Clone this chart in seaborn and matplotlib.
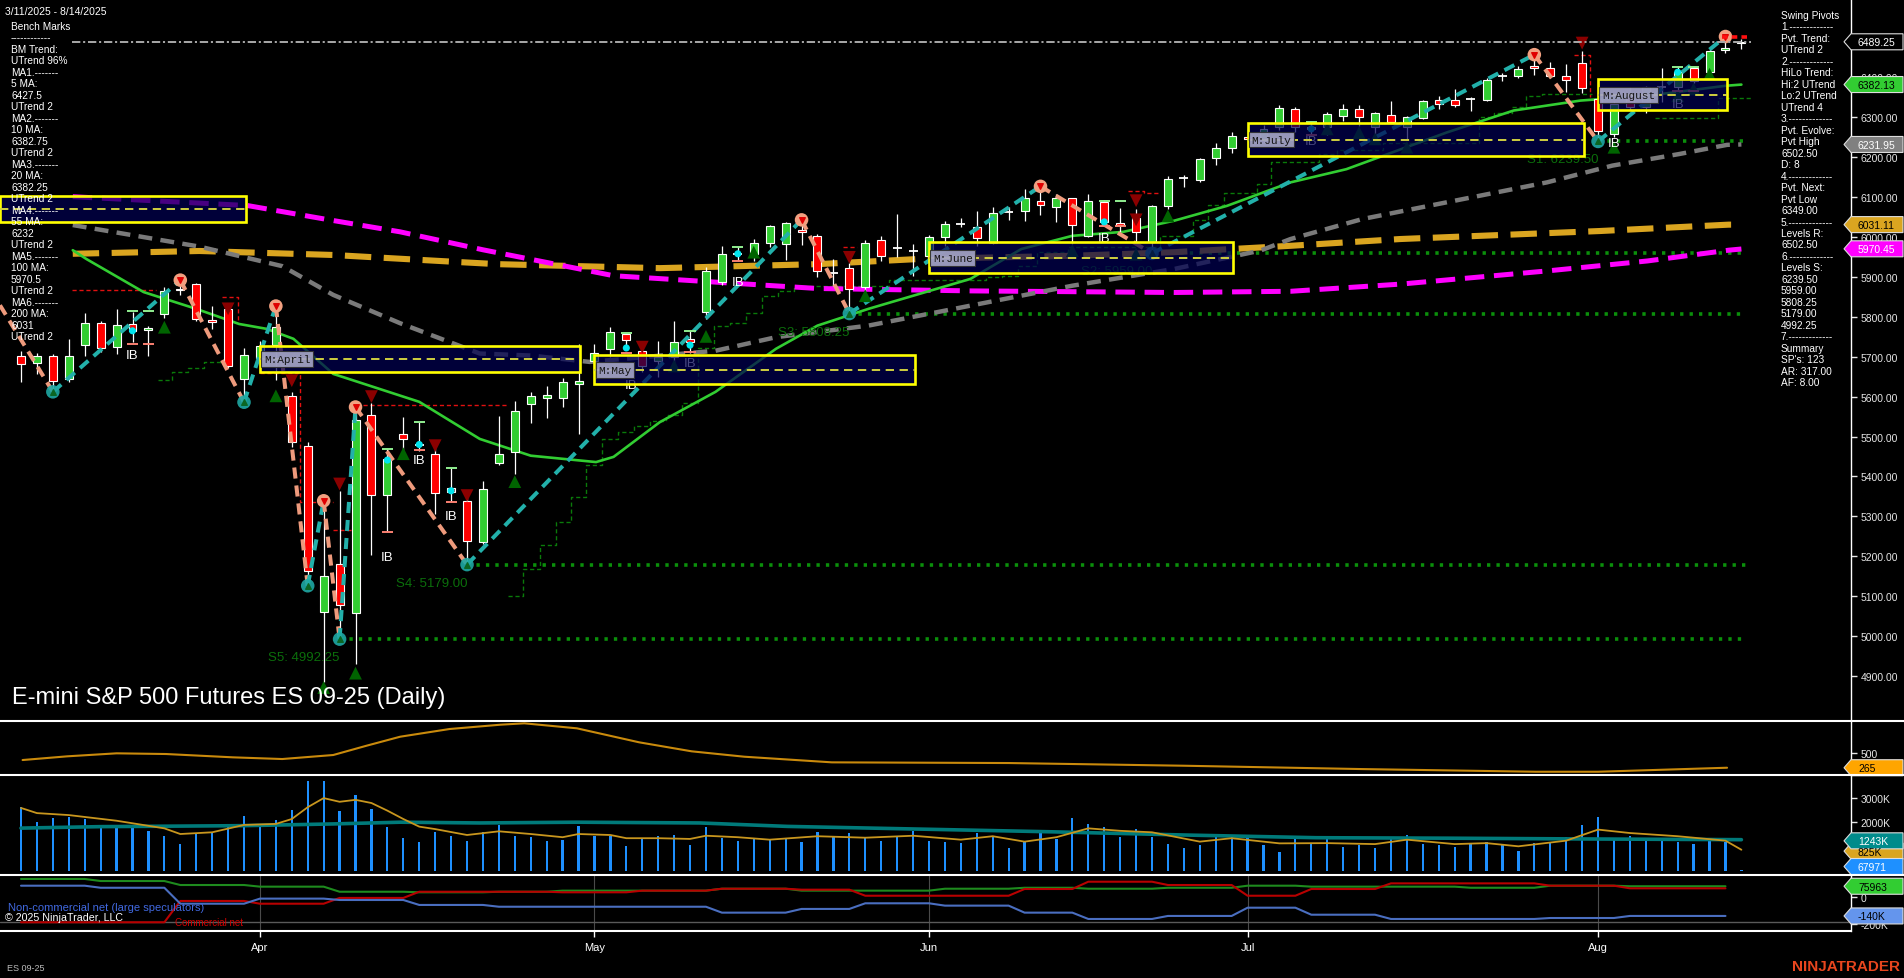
import numpy as np
import matplotlib
matplotlib.use("Agg")
import matplotlib.pyplot as plt
import seaborn as sns
from matplotlib.patches import Polygon, Rectangle

W, H = 1904, 979

# daily bars 3/11/2025 .. 8/14/2025 (bar index 0..108)
opens = [5701, 5684, 5701, 5644, 5730, 5784, 5724, 5783, 5766, 5807,
         5870, 5882, 5792, 5820, 5644, 5697, 5730, 5602, 5476, 5060,
         5181, 5059, 5555, 5354, 5507, 5482, 5456, 5370, 5338, 5235,
         5433, 5460, 5582, 5596, 5596, 5632, 5690, 5720, 5758, 5715,
         5690, 5699, 5745, 5813, 5887, 5960, 5957, 5985, 5982, 6018,
         6003, 5908, 5922, 5874, 5993, 5975, 5968, 5953, 6001, 6034,
         6026, 5984, 6062, 6064, 6090, 6074, 6097, 6002, 6088, 6035,
         6047, 5987, 6077, 6146, 6144, 6197, 6222, 6250, 6244, 6275,
         6321, 6275, 6275, 6304, 6322, 6275, 6307, 6275, 6298, 6343,
         6343, 6346, 6343, 6403, 6404, 6429, 6423, 6403, 6436, 6346,
         6258, 6354, 6325, 6378, 6375, 6423, 6413, 6469, 6485]
highs = [5715, 5710, 5707, 5744, 5810, 5790, 5820, 5812, 5778, 5874,
         5892, 5886, 5828, 5830, 5721, 5740, 5827, 5611, 5486, 5339,
         5364, 5574, 5583, 5471, 5549, 5537, 5486, 5422, 5360, 5389,
         5551, 5590, 5611, 5627, 5647, 5732, 5732, 5774, 5760, 5719,
         5740, 5790, 5765, 5925, 5977, 5976, 5995, 6030, 6037, 6043,
         6008, 5945, 5935, 5993, 6003, 6058, 5982, 6005, 6041, 6048,
         6064, 6074, 6074, 6120, 6127, 6108, 6099, 6108, 6092, 6073,
         6070, 6080, 6152, 6155, 6198, 6235, 6264, 6270, 6280, 6331,
         6325, 6288, 6313, 6333, 6330, 6313, 6342, 6303, 6343, 6354,
         6371, 6350, 6398, 6410, 6429, 6457, 6439, 6434, 6465, 6360,
         6340, 6375, 6379, 6423, 6425, 6425, 6471, 6502.5, 6496]
lows = [5637, 5656, 5612, 5637, 5703, 5712, 5707, 5736, 5703, 5798,
        5855, 5790, 5770, 5672, 5586, 5680, 5642, 5473, 5126, 4885,
        4992.25, 4930, 5203, 5260, 5443, 5464, 5306, 5337, 5179, 5230,
        5429, 5406, 5534, 5546, 5573, 5506, 5660, 5700, 5720, 5662,
        5650, 5665, 5710, 5795, 5880, 5941, 5940, 5974, 5943, 5979,
        5899, 5878, 5808.25, 5861, 5941, 5949, 5903, 5945, 5978, 6026,
        5978, 5983, 6043, 6041, 6055, 6038, 5983, 6000, 6030, 6012,
        5985, 5959, 6070, 6125, 6139, 6180, 6210, 6225, 6235, 6268,
        6262, 6255, 6255, 6290, 6279, 6258, 6285, 6244, 6296, 6321,
        6325, 6317, 6340, 6390, 6399, 6406, 6398, 6364, 6361, 6239.5,
        6250, 6318, 6310, 6338, 6367, 6385, 6405, 6460, 6472]
closes = [5681, 5703, 5640, 5701, 5784, 5721, 5780, 5765, 5772, 5865,
          5866, 5795, 5788, 5677, 5705, 5727, 5775, 5486, 5162, 5150,
          5077, 5542, 5354, 5444, 5493, 5480, 5358, 5362, 5237, 5368,
          5455, 5563, 5602, 5605, 5636, 5639, 5710, 5761, 5742, 5677,
          5700, 5736, 5738, 5916, 5957, 5958, 5984, 6027, 6034, 6012,
          5914, 5910, 5870, 5985, 5953, 5973, 5966, 5999, 6032, 6033,
          5997, 6059, 6063, 6097, 6080, 6099, 6031, 6090, 6038, 6031,
          6012, 6078, 6145, 6147, 6196, 6222, 6252, 6245, 6270, 6323,
          6275, 6270, 6308, 6322, 6300, 6310, 6287, 6301, 6341, 6333,
          6331, 6347, 6394, 6403, 6422, 6423, 6404, 6394, 6373, 6266,
          6333, 6325, 6375, 6375, 6413, 6392, 6467, 6473, 6489.25]
volume_m = [2.61, 2.00, 2.17, 2.22, 2.13, 1.89, 1.76, 1.76, 1.64, 1.44,
            1.11, 1.52, 1.59, 1.93, 2.25, 1.89, 2.09, 2.50, 3.67, 3.67,
            2.46, 3.11, 2.54, 1.82, 1.36, 1.20, 1.60, 1.44, 1.24, 1.60,
            1.89, 1.45, 1.41, 1.25, 1.29, 1.86, 1.45, 1.45, 1.04, 1.35,
            1.45, 1.48, 1.07, 1.82, 1.37, 1.24, 1.35, 1.29, 1.32, 1.18,
            1.61, 1.39, 1.56, 1.36, 1.25, 1.39, 1.65, 1.25, 1.18, 1.14,
            1.56, 1.39, 0.96, 1.18, 1.64, 1.32, 2.17, 1.93, 1.79, 1.41,
            1.72, 1.41, 1.11, 0.96, 1.07, 1.41, 1.43, 1.35, 1.09, 0.80,
            1.41, 1.11, 1.39, 1.00, 1.07, 0.96, 1.32, 1.48, 1.11, 1.07,
            1.00, 1.14, 1.18, 1.07, 0.83, 1.14, 1.14, 1.39, 1.89, 2.22,
            1.37, 1.45, 1.28, 1.35, 1.21, 1.11, 1.32, 1.21, 0.068]

month_labels = ["Apr", "May", "Jun", "Jul", "Aug"]
month_idx = [15, 36, 57, 77, 99]

# moving averages (read at sample bars)
ma20_i = [3.25, 4.1, 7.7, 11.0, 13.7, 15.4, 17.1, 19.6, 25.0, 28.8, 32.0, 36.1, 37.2, 40.1, 43.6, 47.4,
          50.0, 53.2, 59.6, 62.8, 66.0, 69.2, 72.4, 75.7, 79.7, 83.2, 89.5, 93.7, 97.9, 102.1, 107.0, 108]
ma20_v = [5967, 5945, 5862, 5820, 5782, 5770, 5745, 5657, 5587, 5494, 5452, 5436, 5449, 5536, 5612, 5720,
          5778, 5820, 5895, 5970, 6003, 6013, 6041, 6078, 6137, 6170, 6262, 6317, 6342, 6354, 6379, 6382]
ma55_i = [3.25, 11.2, 16.4, 19.6, 23.8, 28.8, 32.0, 35.7, 43.6, 47.4, 53.2, 59.6, 66.0, 72.4, 77.8, 79.7,
          84.2, 89.5, 95.8, 99.9, 104.1, 107.1, 108]
ma55_v = [6030, 5976, 5927, 5855, 5784, 5708, 5703, 5687, 5715, 5749, 5778, 5828, 5878, 5920, 5966, 5995,
          6045, 6087, 6137, 6179, 6208, 6231, 6232]
ma100_i = [3.25, 14.2, 19.5, 23.8, 29.0, 37.2, 43.6, 50.0, 59.6, 72.4, 79.7, 86.6, 95.8, 102.1, 107.2, 108]
ma100_v = [6101, 6079, 6042, 6013, 5968, 5903, 5887, 5871, 5865, 5861, 5864, 5882, 5915, 5940, 5967, 5970]
ma200_i = [3.25, 11.2, 19.6, 27.6, 29.9, 40.1, 50.0, 56.4, 66.0, 72.4, 79.7, 86.6, 99.1, 107.2, 108]
ma200_v = [5958, 5965, 5955, 5937, 5932, 5922, 5932, 5945, 5953, 5962, 5978, 5995, 6015, 6031, 6031]

# swing pivots
zz_i = [-1.32, 2, 10, 14, 16, 18, 19, 20, 21, 28, 49, 52, 64, 71, 95, 99, 107]
zz_v = [5829, 5612, 5892, 5586, 5827, 5126, 5339, 4992.25, 5574, 5179, 6043, 5808.25, 6127, 5959, 6457,
        6239.5, 6502.5]
sup_name = ["S1", "S2", "S3", "S4", "S5"]
sup_i = [99, 71, 52, 28, 20]
sup_v = [6239.5, 5959.0, 5808.25, 5179.0, 4992.25]

# trailing stop steps
stop_i = [8.6, 9.5, 10.5, 11.5, 12.7, np.nan, 30.6, 31.5, 32.6, 33.6, 34.5, 35.5, 36.5, 37.5, 38.5, 39.5,
          40.5, 41.5, 42.5, 43.5, 44.5, 45.5, 46.5, 47.5, 48.5, 54.5, 59.0, 60.6, 61.6, 62.6, 63.8, 65.7,
          71.5, 73.6, 74.5, 75.5, 77.6, 78.5, 81.5, 82.6, 85.5, 91.5, 92.5, 93.6, 94.5, 95.5, 98.6, np.nan,
          102.6, 106.5, 108.6]
stop_v = [5642, 5662, 5673, 5686, 5686, np.nan, 5101, 5168, 5229, 5287, 5348, 5429, 5494, 5511, 5527, 5540,
          5555, 5585, 5721, 5776, 5785, 5810, 5851, 5865, 5878, 5892, 5893, 5899, 5903, 5927, 5962, 5974,
          6003, 6043, 6081, 6110, 6133, 6189, 6208, 6218, 6235, 6300, 6310, 6325, 6353, 6358, 6358, np.nan,
          6298, 6348, 6348]
red_i = [3.2, 8.5, np.nan, 12.6, 13.6, 13.6, np.nan, 15.0, 17.5, 17.5, 19.6, np.nan, 19.6, 20.8, np.nan,
         21.5, 30.5, np.nan, 51.6, 52.5, np.nan, 69.5, 70.5, 70.5, 71.5, np.nan, 97.5, 98.5, 98.5]
red_v = [5866, 5866, np.nan, 5849, 5849, 5785, np.nan, 5659, 5659, 5336, 5336, np.nan, 5265, 5265, np.nan,
         5580, 5580, np.nan, 5974, 5974, np.nan, 6116, 6116, 6110, 6110, np.nan, 6456, 6456, 6350]

up_tri_i = [9, 16, 19, 21, 24, 31, 41, 43, 46, 53, 66, 70, 72, 82, 84, 85, 87, 100, 104, 105, 106]
up_tri_v = [5774, 5602, 4871, 4907, 5457, 5387, 5677, 5751, 5962, 5853, 5966, 5957, 6053, 6271, 6262,
            6246, 6225, 6225, 6354, 6371, 6408]
dn_tri_i = [13, 17, 20, 22, 26, 28, 39, 52, 70, 70, 98]
dn_tri_v = [5820, 5640, 5381, 5600, 5477, 5352, 5724, 5949, 6091, 6043, 6486]

ib_bar = [7, 8, 23, 25, 27, 38, 42, 45, 68, 69, 81, 104, 105]
ib_hi = [5815, 5815, 5470, 5537, 5422, 5759, 5765, 5976, 6091, 6091, 6287, 6425, 6425]
ib_lo = [5732, 5732, 5260, 5465, 5337, 5709, 5713, 5941, 6028, 6028, 6255, 6367, 6367]
ib_dot_i = [7, 23, 25, 27, 38, 42, 45, 68, 81, 104]
ib_dot_v = [5765, 5441, 5480, 5364, 5722, 5729, 5958, 6038, 6271, 6413]
ib_txt_i = [7, 23, 25, 27, 38.3, 42, 45, 68, 81, 100, 104]
ib_txt_v = [5705, 5198, 5441, 5301, 5628, 5684, 5888, 5997, 6241, 6236, 6333]

# monthly boxes
box_lbl = ["", "M:April", "M:May", "M:June", "M:July", "M:August"]
box_s = [-1.32, 15, 36, 57, 77, 99]
box_e = [14.1, 35.1, 56.1, 76.1, 98.1, 107.1]
box_top = [6102, 5727, 5705, 5988, 6285, 6396]
box_bot = [6037, 5661, 5632, 5910, 6204, 6319]
box_mid = [6070, 5694, 5667, 5948, 6244, 6356]

# lower panels
atr_i = [0.1, 2.9, 6.0, 9.1, 13.3, 16.4, 19.6, 21.7, 23.8, 26.9, 30.1, 31.6, 34.9, 38.8, 42.1, 45.4,
         50.9, 62.0, 73.0, 84.1, 95.1, 99.0, 107.1]
atr_v = [388, 447, 495, 484, 431, 404, 468, 617, 760, 883, 952, 974, 894, 671, 527, 441,
         351, 340, 297, 244, 201, 201, 265]
vslow_i = [0, 5, 14, 19.6, 23.8, 28.8, 34.9, 42.6, 48.1, 56.4, 64.7, 73, 81.3, 89.6, 97.9, 108]
vslow_v = [1.76, 1.82, 1.86, 1.93, 2.0, 1.97, 2.0, 1.97, 1.83, 1.72, 1.61, 1.48, 1.37, 1.35, 1.32, 1.29]
vfast_i = [0, 1, 3, 6, 9, 10, 12, 14, 16, 17, 18, 19, 20, 21, 22, 23, 24, 25, 26, 28, 30, 32, 34, 35,
           37, 38, 40, 42, 43, 45, 47, 50, 53, 56, 59, 61, 63, 65, 67, 69, 71, 74, 76, 79, 82, 85, 87,
           90, 92, 94, 97, 99, 101, 104, 107, 108]
vfast_v = [2.58, 2.37, 2.29, 2.06, 1.75, 1.52, 1.59, 1.89, 1.93, 2.13, 2.61, 2.98, 2.83, 2.91, 2.78,
           2.47, 2.13, 1.82, 1.72, 1.48, 1.63, 1.52, 1.39, 1.52, 1.48, 1.35, 1.35, 1.32, 1.45, 1.39,
           1.29, 1.43, 1.37, 1.45, 1.29, 1.43, 1.21, 1.39, 1.75, 1.65, 1.59, 1.21, 1.35, 1.14, 1.15,
           1.11, 1.29, 1.11, 1.15, 1.02, 1.25, 1.70, 1.56, 1.43, 1.25, 0.88]
cot_start = [0, 5, 10, 15, 20, 25, 30, 34, 39, 44, 49, 53, 58, 63, 67, 72, 77, 81, 86, 91, 96, 101, 108]
cot_green = [129, 114, 85, 73, 36, 32, 36, 44, 44, 58, 44, 44, 58, 65, 58, 65, 80, 73, 73, 65, 80, 76]
cot_red = [-186, -186, -31, -51, -9, 36, 36, 32, 44, 58, 51, 7, 7, 56, 109, 85, 7, 56, 97, 97, 80, 61]
cot_blue = [80, 65, -51, -14, -24, -60, -73, -73, -73, -116, -89, -48, -65, -116, -162, -140, -80,
            -131, -162, -162, -155, -140]

bench_lines = ["Bench Marks", "------------", "BM Trend:", "UTrend 96%",
               "MA1.-------", "5 MA:", "6427.5", "UTrend 2",
               "MA2.-------", "10 MA:", "6382.75", "UTrend 2",
               "MA3.-------", "20 MA:", "6382.25", "UTrend 2",
               "MA4.-------", "55 MA:", "6232", "UTrend 2",
               "MA5.-------", "100 MA:", "5970.5", "UTrend 2",
               "MA6.-------", "200 MA:", "6031", "UTrend 2"]
pivot_lines = ["Swing Pivots", "1.-------------", "Pvt. Trend:", "UTrend 2", "2.-------------",
               "HiLo Trend:", "Hi:2 UTrend", "Lo:2 UTrend", "UTrend 4", "3.-------------",
               "Pvt. Evolve:", "Pvt High", "6502.50", "D: 8", "4.-------------", "Pvt. Next:",
               "Pvt Low", "6349.00", "5.-------------", "Levels R:", "6502.50", "6.-------------",
               "Levels S:", "6239.50", "5959.00", "5808.25", "5179.00", "4992.25", "7.-------------",
               "Summary", "SP's: 123", "AR: 317.00", "AF: 8.00"]

sns.set_theme(style="dark")
plt.rcParams["font.family"] = ["Liberation Sans", "DejaVu Sans"]
plt.rcParams["lines.scale_dashes"] = False
plt.rcParams["axes.unicode_minus"] = False

fig = plt.figure(figsize=(W / 100, H / 100), dpi=100, facecolor="black")
XL = (-1.318, 114.88)


def panel(top, bottom):
    a = fig.add_axes([0, 1 - bottom / H, 1851 / W, (bottom - top) / H])
    a.set_facecolor("black")
    a.grid(False)
    for s in a.spines.values():
        s.set_visible(False)
    a.spines["right"].set_visible(True)
    a.spines["right"].set_color("white")
    a.spines["right"].set_linewidth(1)
    a.yaxis.tick_right()
    a.tick_params(axis="y", colors="#E6E6E6", length=4, width=1, pad=3, labelsize=7.5,
                  direction="out", right=True, left=False)
    a.tick_params(axis="x", bottom=False, labelbottom=False)
    return a


ax = panel(0, 722)
ax2 = panel(722, 776)
ax3 = panel(776, 876)
ax4 = panel(876, 932)

# ---- main price panel
x = np.arange(len(opens))
o, hi, lo, c = map(np.array, (opens, highs, lows, closes))
ax.plot(np.array(stop_i), np.array(stop_v), drawstyle="steps-post", color="#0A7A0A", lw=1,
        ls=(0, (3, 2)), zorder=2)
ax.plot(red_i, red_v, color="#E01010", lw=1, ls=(0, (3, 2)), zorder=2)
for nm, si, sv in zip(sup_name, sup_i, sup_v):
    ax.plot([si, 108.3], [sv, sv], color="#0B8F0B", lw=2.6, ls=(0, (2.4, 4.4)), zorder=2,
            dash_capstyle="butt")
    ax.annotate(f"{nm}: {sv:.2f}", xy=(si, sv), xytext=(0, -18), textcoords="offset pixels",
                ha="right", va="center", color="#0B6E0B", fontsize=9.5, zorder=6)

sns.lineplot(x=ma200_i, y=ma200_v, ax=ax, color="#DAA520", linewidth=4.4, linestyle=(0, (19, 9)), zorder=3)
sns.lineplot(x=ma100_i, y=ma100_v, ax=ax, color="#FF00FF", linewidth=3.6, linestyle=(0, (14, 7)), zorder=3)
sns.lineplot(x=ma55_i, y=ma55_v, ax=ax, color="#7A7A7A", linewidth=3.2, linestyle=(0, (10, 6)), zorder=3)
sns.lineplot(x=ma20_i, y=ma20_v, ax=ax, color="#32CD32", linewidth=1.9, zorder=3)

ax.vlines(x, lo, hi, color="white", lw=0.9, zorder=4)
up = c > o + 3
dn = c < o - 3
dj = ~(up | dn)
ax.bar(x[up], (c - o)[up], bottom=o[up], width=0.5, color="#32CD32", edgecolor="white", linewidth=0.8, zorder=5)
ax.bar(x[dn], (o - c)[dn], bottom=c[dn], width=0.5, color="#FF0000", edgecolor="white", linewidth=0.8, zorder=5)
ax.hlines(c[dj], x[dj] - 0.28, x[dj] + 0.28, color="white", lw=1.3, zorder=5)

for k in range(len(zz_i) - 1):
    col = "#22B0AA" if zz_v[k + 1] > zz_v[k] else "#EE9A7C"
    ax.plot(zz_i[k:k + 2], zz_v[k:k + 2], color=col, lw=2.9, ls=(0, (8, 5)), zorder=6,
            dash_capstyle="butt")
piv_hi = [k for k in range(1, len(zz_v)) if (k + 1 == len(zz_v) or zz_v[k] > zz_v[k + 1])]
piv_lo = [k for k in range(1, len(zz_v)) if k not in piv_hi]
ax.scatter([zz_i[k] for k in piv_hi], [zz_v[k] for k in piv_hi], s=95, color="#F2A080", zorder=7, edgecolors="none")
ax.scatter([zz_i[k] for k in piv_hi], [zz_v[k] for k in piv_hi], s=16, marker="v", color="#E00000", zorder=7)
ax.scatter([zz_i[k] for k in piv_lo], [zz_v[k] for k in piv_lo], s=95, color="#1FA9A4", alpha=0.9, zorder=7, edgecolors="none")
ax.scatter([zz_i[k] for k in piv_lo], [zz_v[k] for k in piv_lo], s=16, marker="^", color="#0B6623", zorder=7)

ax.scatter(up_tri_i, up_tri_v, marker="^", s=85, color="#006400", zorder=6, edgecolors="none")
ax.scatter(dn_tri_i, dn_tri_v, marker="v", s=85, color="#8B0000", zorder=6, edgecolors="none")

ib_b = np.array(ib_bar)
ax.hlines(ib_hi, ib_b - 0.35, ib_b + 0.35, color="#90EE90", lw=1.4, zorder=6)
ax.hlines(ib_lo, ib_b - 0.35, ib_b + 0.35, color="#FA8072", lw=1.4, zorder=6)
ax.scatter(ib_dot_i, ib_dot_v, s=26, color="#00E5EE", zorder=7, edgecolors="none")
for ti, tv in zip(ib_txt_i, ib_txt_v):
    ax.text(ti, tv, "IB", color="white", fontsize=9.5, ha="center", va="center", zorder=6)

for lb, s, e, t, b, m in zip(box_lbl, box_s, box_e, box_top, box_bot, box_mid):
    ax.add_patch(Rectangle((s, b), e - s, t - b, facecolor="#000050", alpha=0.72, edgecolor="none", zorder=10))
    ax.add_patch(Rectangle((s, b), e - s, t - b, fill=False, edgecolor="#FFFF00", lw=1.9, zorder=11))
    ax.plot([s, e], [m, m], color="#CFCF40", lw=1.4, ls=(0, (6, 4)), zorder=11)
    if lb:
        ax.text(s + 0.25, m, lb, fontsize=8, family="Liberation Mono", color="#151515", ha="left",
                va="center", zorder=12,
                bbox=dict(boxstyle="square,pad=0.25", fc="#A4A4C4", ec="#303030", lw=0.8, alpha=0.93))

ax.plot([3.2, 108.6], [closes[-1], closes[-1]], color="#A8A8A8", lw=1.4, ls=(0, (6, 2, 1.5, 2)), zorder=13)
ax.plot([106.8, 108.6], [highs[-2], highs[-2]], color="#FF1010", lw=2.6, ls=(0, (4, 3)), zorder=13)

ax.set_xlim(XL)
ax.set_ylim(4787.1, 6596.5)
ax.set_yticks(np.arange(4900, 6401, 100))
ax.set_yticklabels([f"{v:.2f}" for v in np.arange(4900, 6401, 100)])

# ---- ATR-like panel
sns.lineplot(x=atr_i, y=atr_v, ax=ax2, color="#C98A0C", linewidth=1.5)
ax2.set_xlim(XL)
ax2.set_ylim(149, 1011)
ax2.set_yticks([500])
ax2.set_yticklabels(["500"])

# ---- volume panel
ax3.bar(x, volume_m, width=0.14, color="#1E90FF", edgecolor="none", linewidth=0, zorder=2)
sns.lineplot(x=vslow_i, y=vslow_v, ax=ax3, color="#007A7A", linewidth=2.6, zorder=3)
sns.lineplot(x=vfast_i, y=vfast_v, ax=ax3, color="#C8961E", linewidth=1.3, zorder=4)
ax3.set_xlim(XL)
ax3.set_ylim(-0.146, 3.919)
ax3.set_yticks([2, 3])
ax3.set_yticklabels(["2000K", "3000K"])

# ---- COT panel
ax4.vlines(month_idx, -249.5, 157.8, color="#4A4A4A", lw=0.8, zorder=1)
ax4.axhline(-186, color="#5A5A5A", lw=1, zorder=1)


def step_xy(vals):
    xs, ys = [], []
    for k, v in enumerate(vals):
        xs += [cot_start[k], cot_start[k + 1] - 1]
        ys += [v, v]
    return xs, ys


for vals, col in [(cot_green, "#1E8B1E"), (cot_red, "#B80000"), (cot_blue, "#4A6EC0")]:
    sx, sy = step_xy(vals)
    ax4.plot(sx, sy, color=col, lw=1.5, zorder=3)
ax4.set_xlim(XL)
ax4.set_ylim(-249.5, 157.8)
ax4.set_yticks([0, -200])
ax4.set_yticklabels(["0", "-200K"])
ax4.set_xticks(month_idx)
ax4.set_xticklabels(month_labels)
ax4.tick_params(axis="x", bottom=True, labelbottom=True, colors="white", length=4, width=1, pad=4,
                labelsize=8)

# ---- overlay (frame, texts, price tags)
ov = fig.add_axes([0, 0, 1, 1], zorder=20)
ov.set_xlim(0, W)
ov.set_ylim(H, 0)
ov.axis("off")
for yy in (722, 776, 876):
    ov.plot([0, W], [yy, yy], color="white", lw=1.5)
ov.plot([0, 1851], [932, 932], color="white", lw=1.5)


def tag(a, value, text, fc, tc, y_max=None):
    yi = H - a.transData.transform((0, value))[1]
    if y_max is not None:
        yi = min(yi, y_max)
    ov.add_patch(Polygon([(1844, yi), (1851, yi - 8), (1903, yi - 8), (1903, yi + 8), (1851, yi + 8)],
                         closed=True, fc=fc, ec="#DDDDDD", lw=0.8))
    ov.text(1858, yi + 0.5, text, color=tc, fontsize=7.5, ha="left", va="center")


tag(ax, closes[-1], "6489.25", "black", "white")
tag(ax, 6382.13, "6382.13", "#32CD32", "black")
tag(ax, 6231.95, "6231.95", "#808080", "white")
tag(ax, 6031.11, "6031.11", "#DAA520", "black")
tag(ax, 5970.45, "5970.45", "#FF00FF", "white")
tag(ax2, atr_v[-1], "265", "#FFA500", "black")
tag(ax3, 0.825, "825K", "#DAA520", "black")
tag(ax3, 1.243, "1243K", "#008B8B", "white")
tag(ax3, volume_m[-1], "67971", "#1E90FF", "white", y_max=867.5)
tag(ax4, 75.963, "75963", "#32CD32", "black")
tag(ax4, -140, "-140K", "#6495ED", "black")

ov.text(5, 11.7, "3/11/2025 - 8/14/2025", color="white", fontsize=7.5, va="center")
for k, line in enumerate(bench_lines):
    ov.text(11, 26.7 + 11.5 * k, line, color="white", fontsize=7.3, va="center")
for k, line in enumerate(pivot_lines):
    ov.text(1781, 15.7 + 11.49 * k, line, color="white", fontsize=7.3, va="center")

ov.text(12, 698, "E-mini S&P 500 Futures ES 09-25 (Daily)", color="white", fontsize=17, va="center")
ov.text(175, 923, "Commercial net", color="#D00000", fontsize=7, va="center")
ov.text(8, 908.3, "Non-commercial net (large speculators)", color="#4169E1", fontsize=8, va="center")
ov.text(5, 918.5, "\u00a9 2025 NinjaTrader, LLC", color="white", fontsize=7.7, va="center")
ov.text(7, 969, "ES 09-25", color="#BBBBBB", fontsize=6.5, va="center")
ov.text(1792, 967, "NINJATRADER", color="#E8461E", fontsize=11, fontweight="bold", va="center")

fig.savefig("out.png", dpi=100, facecolor="black")
